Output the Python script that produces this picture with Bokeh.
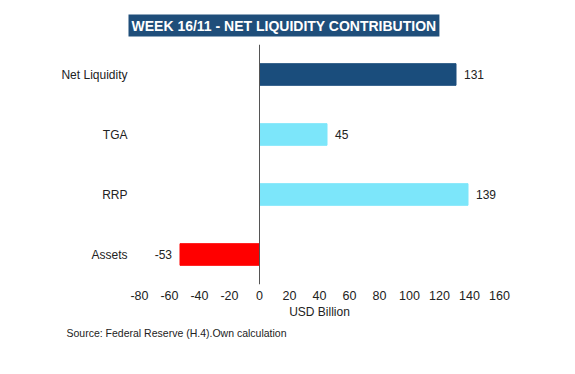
from bokeh.plotting import figure
from bokeh.models import ColumnDataSource, FactorRange, Range1d, Span, Title, FixedTicker
from bokeh.core.properties import value
from bokeh.embed import file_html
from bokeh.resources import INLINE

categories = ["Net Liquidity", "TGA", "RRP", "Assets"]
values = [131, 45, 139, -53]
colors = ["#1A4D7C", "#7CE6FA", "#7CE6FA", "#FF0000"]
x_ticks = [-80, -60, -40, -20, 0, 20, 40, 60, 80, 100, 120, 140, 160]

FONT = "Liberation Sans"

src = ColumnDataSource(dict(
    cat=categories,
    val=values,
    color=colors,
    label=[str(v) for v in values],
    align=["left" if v >= 0 else "right" for v in values],
    xoff=[8 if v >= 0 else -8 for v in values],
))

p = figure(width=570, height=370, output_backend="svg", toolbar_location=None,
           y_range=FactorRange(*reversed(categories), range_padding=0),
           x_range=Range1d(-80, 160),
           min_border_left=139, min_border_right=71, min_border_top=44, min_border_bottom=86)
p.outline_line_color = None
p.grid.grid_line_color = None
p.background_fill_color = "white"

p.hbar(y="cat", left=0, right="val", height=0.36, color="color", source=src)
p.text(x="val", y="cat", text="label", text_align="align", x_offset="xoff",
       text_baseline="middle", text_font=value(FONT), text_font_size="12px",
       text_color="#222222", source=src)

p.add_layout(Span(location=0, dimension="height", line_color="#555555", line_width=1))

# y axis
ya = p.yaxis[0]
ya.axis_line_color = None
ya.major_tick_line_color = None
ya.minor_tick_line_color = None
ya.major_tick_out = 0
ya.major_label_standoff = 12
ya.major_label_text_font = FONT
ya.major_label_text_font_size = "12px"
ya.major_label_text_color = "#222222"

# x axis
xa = p.xaxis[0]
xa.ticker = FixedTicker(ticks=x_ticks)
xa.major_label_overrides = {t: str(t) for t in x_ticks}
xa.axis_line_color = None
xa.major_tick_line_color = None
xa.minor_tick_line_color = None
xa.major_tick_out = 0
xa.major_label_standoff = 6
xa.major_label_text_font = FONT
xa.major_label_text_font_size = "12.5px"
xa.major_label_text_color = "#222222"
xa.axis_label = "USD Billion"
xa.axis_label_standoff = 2
xa.axis_label_text_font = FONT
xa.axis_label_text_font_style = "normal"
xa.axis_label_text_font_size = "12px"
xa.axis_label_text_color = "#222222"

# source note
src_title = Title(text="Source: Federal Reserve (H.4).Own calculation", align="left",
                  offset=-73, standoff=6, text_font=FONT, text_font_size="10.5px",
                  text_font_style="normal", text_color="#222222")
p.add_layout(src_title, "below")

# main title
t = Title(text="WEEK 16/11 - NET LIQUIDITY CONTRIBUTION", align="left", offset=-11,
          text_font=FONT, text_font_size="14px", text_font_style="bold",
          text_color="white", background_fill_color="#1F4E7A", padding=3,
          standoff=16)
p.add_layout(t, "above")

open("out.html", "w").write(file_html(p, INLINE))
